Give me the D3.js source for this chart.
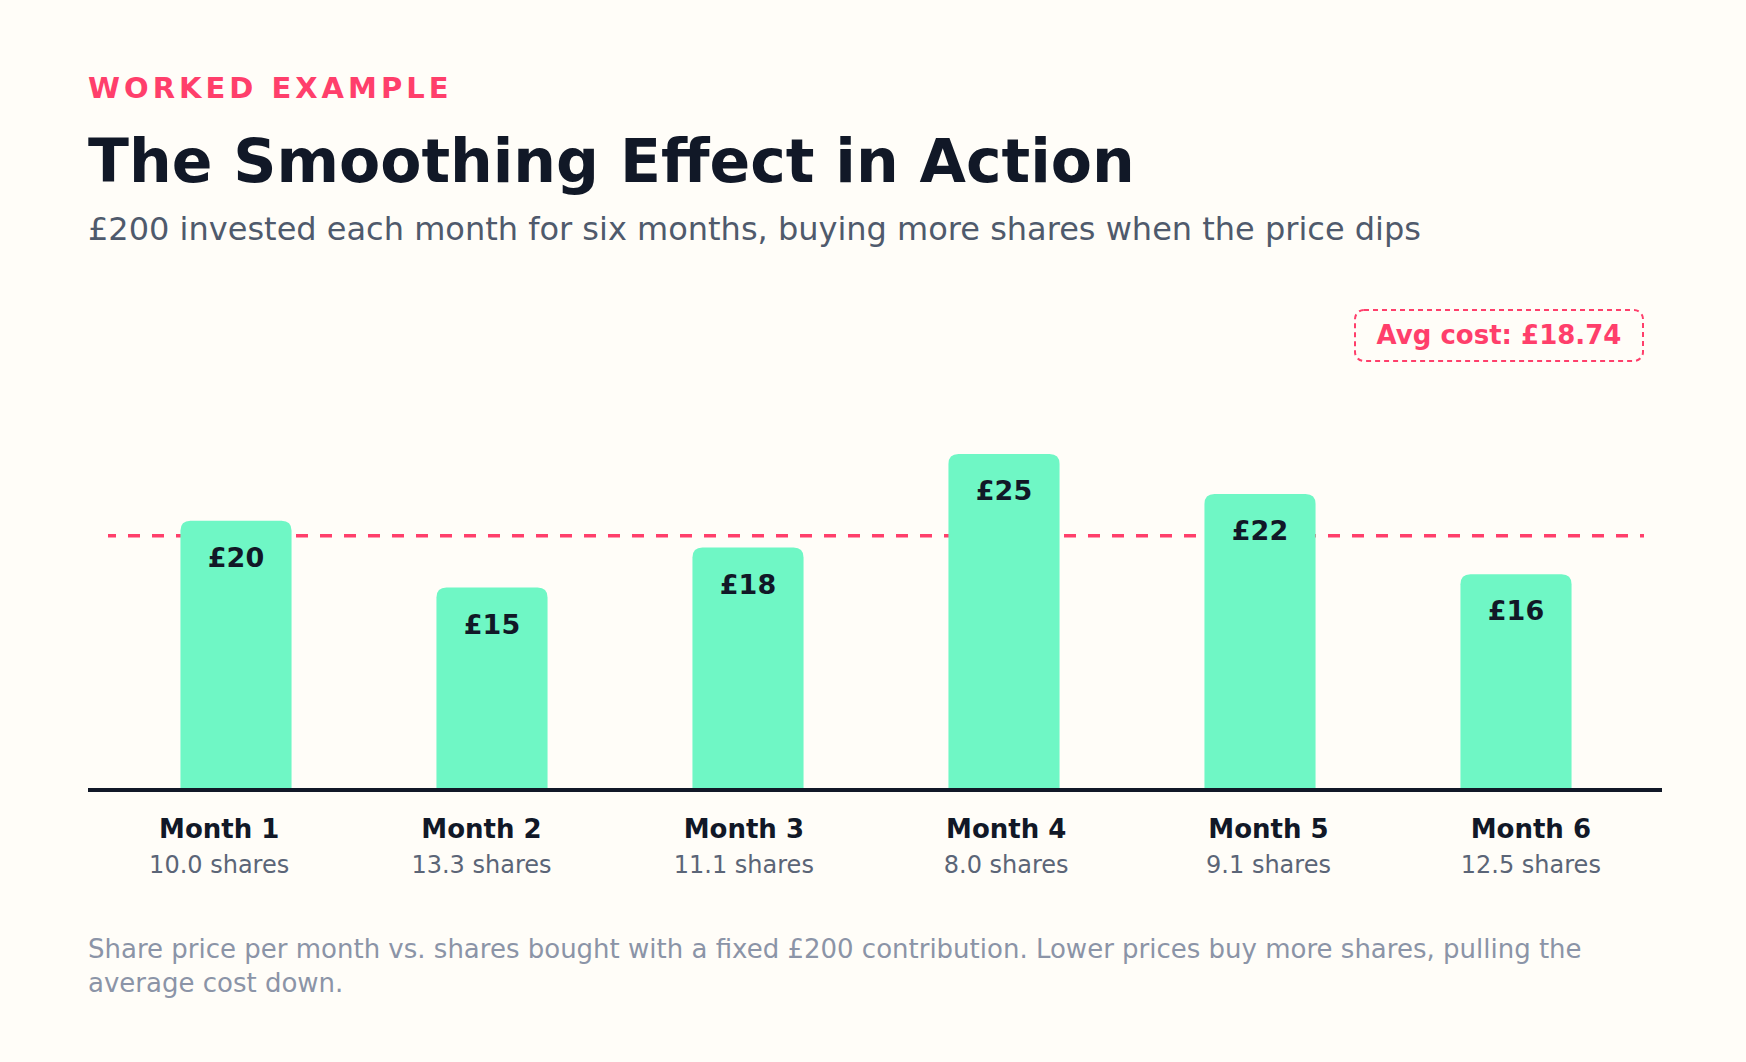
<!DOCTYPE html>
<html>
<head>
<meta charset="utf-8">
<script src="https://cdn.jsdelivr.net/npm/d3@7"></script>
<style>
  html, body { margin: 0; padding: 0; background: #fffdf8; }
  svg { display: block; font-family: "DejaVu Sans", sans-serif; }
</style>
</head>
<body>
<svg id="chart"></svg>
<script>
var months = ["Month 1", "Month 2", "Month 3", "Month 4", "Month 5", "Month 6"];
var prices = [20, 15, 18, 25, 22, 16];
var shares = [10.0, 13.3, 11.1, 8.0, 9.1, 12.5];
var avgCost = 18.74;
var notes = [
  "Share price per month vs. shares bought with a fixed \u00a3200 contribution. Lower prices buy more shares, pulling the",
  "average cost down."
];

var width = 1746, height = 1062;
var pink = "#ff3f6b", ink = "#111827";

var data = months.map(function(m, i) {
  return {month: m, price: prices[i], shares: shares[i]};
});

var svg = d3.select("#chart")
    .attr("width", width)
    .attr("height", height);

svg.append("rect")
    .attr("width", width)
    .attr("height", height)
    .attr("fill", "#fffdf8");

// header
svg.append("text")
    .attr("x", 88).attr("y", 98)
    .attr("font-size", 29)
    .attr("font-weight", "bold")
    .attr("letter-spacing", 4)
    .attr("fill", pink)
    .text("WORKED EXAMPLE");

svg.append("text")
    .attr("x", 88).attr("y", 182)
    .attr("font-size", 60)
    .attr("font-weight", "bold")
    .attr("fill", ink)
    .text("The Smoothing Effect in Action");

svg.append("text")
    .attr("x", 88).attr("y", 240)
    .attr("font-size", 32)
    .attr("fill", "#4f5a6c")
    .text("\u00a3200 invested each month for six months, buying more shares when the price dips");

// scales
var x = d3.scaleBand().domain(months).range([108, 1644]).paddingInner(0.566).paddingOuter(0.283);
var xLabel = d3.scaleBand().domain(months).range([88, 1662]);
var y = d3.scaleLinear().domain([0, 25]).range([788, 454]);

// average line (under the bars), 3px band sitting on top of the value
svg.append("line")
    .attr("x1", x.range()[0]).attr("x2", x.range()[1])
    .attr("y1", y(avgCost) - 2).attr("y2", y(avgCost) - 2)
    .attr("stroke", pink)
    .attr("stroke-width", 3.5)
    .attr("stroke-dasharray", "12,12")
    .attr("stroke-dashoffset", 4);

// avg cost badge
var badge = svg.append("g")
    .attr("transform", "translate(" + (x.range()[1] - 290) + ",309)");
badge.append("rect")
    .attr("x", 1).attr("y", 1)
    .attr("width", 288).attr("height", 51)
    .attr("rx", 9)
    .attr("fill", "none")
    .attr("stroke", pink)
    .attr("stroke-width", 2)
    .attr("stroke-dasharray", "5,4");
badge.append("text")
    .attr("x", 145).attr("y", 35)
    .attr("text-anchor", "middle")
    .attr("font-size", 26)
    .attr("font-weight", "bold")
    .attr("fill", pink)
    .text("Avg cost: \u00a3" + avgCost.toFixed(2));

// bars with rounded tops
function topRounded(x0, y0, w, h, r) {
  return "M" + x0 + "," + (y0 + h) +
    "V" + (y0 + r) +
    "Q" + x0 + "," + y0 + " " + (x0 + r) + "," + y0 +
    "H" + (x0 + w - r) +
    "Q" + (x0 + w) + "," + y0 + " " + (x0 + w) + "," + (y0 + r) +
    "V" + (y0 + h) + "Z";
}

svg.append("g")
  .selectAll("path")
  .data(data)
  .enter()
  .append("path")
    .attr("d", function(d) {
      return topRounded(x(d.month), y(d.price), x.bandwidth(), y(0) - y(d.price), 10);
    })
    .attr("fill", "#6ff7c5");

svg.append("g")
  .selectAll("text")
  .data(data)
  .enter()
  .append("text")
    .attr("x", function(d) { return x(d.month) + x.bandwidth() / 2; })
    .attr("y", function(d) { return y(d.price) + 46; })
    .attr("text-anchor", "middle")
    .attr("font-size", 27)
    .attr("font-weight", "bold")
    .attr("fill", ink)
    .text(function(d) { return "\u00a3" + d.price; });

// baseline
svg.append("line")
    .attr("x1", 88).attr("x2", 1662)
    .attr("y1", 790).attr("y2", 790)
    .attr("stroke", ink)
    .attr("stroke-width", 4);

// month labels
var labels = svg.append("g")
  .selectAll("g")
  .data(data)
  .enter()
  .append("g")
    .attr("transform", function(d) {
      return "translate(" + (xLabel(d.month) + xLabel.bandwidth() / 2) + ",0)";
    });

labels.append("text")
    .attr("y", 838)
    .attr("text-anchor", "middle")
    .attr("font-size", 26)
    .attr("font-weight", "bold")
    .attr("fill", ink)
    .text(function(d) { return d.month; });

labels.append("text")
    .attr("y", 873)
    .attr("text-anchor", "middle")
    .attr("font-size", 24)
    .attr("fill", "#5b6577")
    .text(function(d) { return d.shares.toFixed(1) + " shares"; });

// footnote
svg.append("g")
  .selectAll("text")
  .data(notes)
  .enter()
  .append("text")
    .attr("x", 88)
    .attr("y", function(d, i) { return 958 + i * 34; })
    .attr("font-size", 26)
    .attr("fill", "#8b94a7")
    .text(function(d) { return d; });
</script>
</body>
</html>
